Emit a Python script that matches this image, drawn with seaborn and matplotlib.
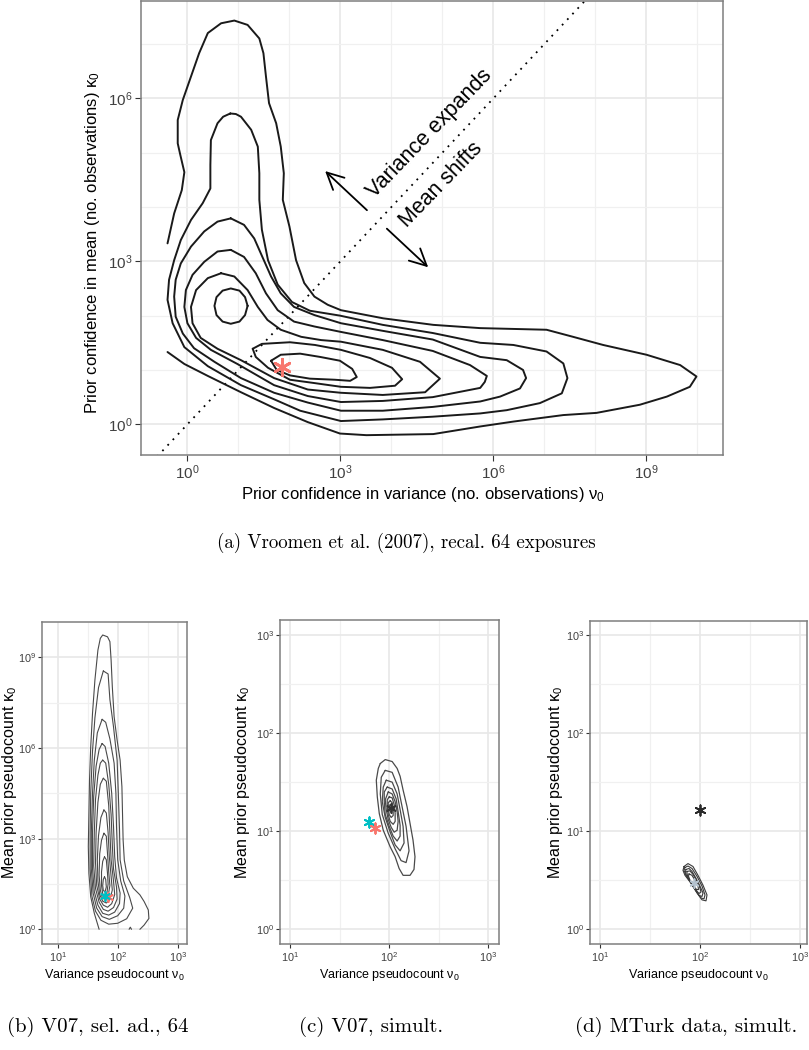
import numpy as np
import matplotlib
matplotlib.use("Agg")
import matplotlib.pyplot as plt
import seaborn as sns
from matplotlib.ticker import FixedLocator, LogFormatterSciNotation, NullFormatter

sns.set_theme(style="white")
plt.rcParams["font.family"] = ["Liberation Sans", "DejaVu Sans"]
plt.rcParams["mathtext.fontset"] = "custom"
plt.rcParams["mathtext.rm"] = "Liberation Sans"
plt.rcParams["mathtext.it"] = "Liberation Sans:italic"
plt.rcParams["mathtext.bf"] = "Liberation Sans:bold"

# ---------------- data (log10 units) ----------------
# Panel (a): density contours, outermost (open at data edge) to innermost
A1_X = [-0.39,-0.26,-0.11,-0.06,-0.14,-0.19,-0.19,-0.09,0.07,0.23,0.40,0.66,0.92,1.18,1.41,1.49,1.54,1.60,1.74,1.83,
        1.89,1.87,2.00,2.13,2.29,2.49,2.75,3.01,3.84,4.82,5.74,7.04,7.56,8.15,9.00,9.66,9.98,9.85,9.40,8.87,
        8.02,7.37,6.39,5.74,4.82,3.51,2.99,2.36,1.70,1.05,0.40,-0.06,-0.39]
A1_Y = [3.33,3.88,4.31,4.64,4.96,5.17,5.60,5.97,6.40,6.83,7.20,7.38,7.43,7.35,7.10,6.83,6.40,5.91,5.54,5.11,
        4.62,4.13,3.64,3.02,2.60,2.35,2.20,2.10,1.95,1.83,1.77,1.74,1.61,1.46,1.28,1.09,0.88,0.69,0.51,0.36,
        0.21,0.17,0.05,-0.04,-0.18,-0.20,-0.17,0.04,0.30,0.59,0.89,1.11,1.33]
A2_X = [0.84,0.95,1.05,1.25,1.38,1.41,1.41,1.46,1.58,1.77,2.05,2.40,2.99,3.83,4.81,5.74,6.39,7.04,7.37,7.45,7.34,
        6.91,6.26,5.74,4.81,3.83,3.01,2.21,1.70,1.05,0.40,-0.06,-0.29,-0.39,-0.36,-0.26,-0.13,0.07,0.30,0.45,0.45,
        0.46,0.59,0.70]
A2_Y = [5.72,5.71,5.66,5.42,5.11,4.62,4.13,3.58,3.02,2.57,2.25,2.09,2.00,1.83,1.68,1.50,1.46,1.34,1.12,0.85,0.57,
        0.39,0.26,0.20,0.14,0.09,0.06,0.25,0.46,0.72,1.07,1.42,1.86,2.29,2.66,3.02,3.39,3.76,4.07,4.34,4.77,
        5.23,5.54,5.66]
A3_X = [0.85,1.11,1.31,1.47,1.64,1.83,2.09,2.49,3.01,3.83,4.81,5.74,6.26,6.58,6.64,6.52,6.13,5.74,4.81,3.83,
        3.01,2.36,1.70,1.05,0.53,0.13,-0.09,-0.23,-0.26,-0.23,-0.13,0.07,0.33,0.59]
A3_Y = [3.79,3.67,3.42,3.08,2.72,2.41,2.16,2.01,1.86,1.72,1.56,1.24,1.18,1.00,0.85,0.66,0.51,0.42,0.32,0.25,
        0.25,0.40,0.58,0.85,1.15,1.40,1.67,1.98,2.35,2.66,2.96,3.27,3.55,3.73]
A4_X = [0.85,1.11,1.34,1.54,1.77,2.09,2.49,3.01,3.83,4.81,5.54,5.87,5.83,5.74,4.81,3.83,3.01,2.36,1.70,0.98,
        0.46,0.17,0.00,-0.06,-0.03,0.10,0.33,0.59]
A4_Y = [3.21,3.08,2.78,2.41,2.10,1.89,1.80,1.70,1.55,1.35,1.09,0.89,0.78,0.67,0.50,0.43,0.41,0.52,0.72,1.11,
        1.37,1.59,1.86,2.16,2.47,2.75,2.99,3.18]
A5_X = [0.66,0.92,1.18,1.38,1.57,1.83,2.23,2.62,3.01,3.83,4.56,4.95,4.66,3.83,3.01,2.36,1.70,1.05,0.59,0.26,
        0.10,0.07,0.17,0.40]
A5_Y = [2.78,2.72,2.47,2.16,1.92,1.74,1.61,1.55,1.52,1.37,1.15,0.84,0.59,0.54,0.58,0.64,0.85,1.18,1.39,1.59,
        1.86,2.16,2.47,2.69]
A6_X = [1.18,1.13,1.02,0.85,0.69,0.57,0.53,0.57,0.69,0.85,1.02,1.13]
A6_Y = [2.18,2.34,2.46,2.50,2.46,2.34,2.18,2.01,1.89,1.85,1.89,2.01]
A6B_X = [1.28,1.46,2.01,2.50,3.01,3.58,4.01,4.21,4.07,3.58,3.01,2.48,2.01,1.58,1.34]
A6B_Y = [1.39,1.48,1.51,1.46,1.37,1.22,1.04,0.83,0.71,0.67,0.69,0.76,0.82,1.04,1.24]
A7_X = [1.64,1.83,2.21,2.60,2.99,3.23,3.32,3.19,2.89,2.40,2.01,1.75]
A7_Y = [1.17,1.28,1.30,1.24,1.17,1.02,0.87,0.80,0.82,0.84,0.90,1.00]
A_STAR = (1.85, 1.05)
DIAG = [-1.0, 8.5]

# Panel (b)
B1_X = [1.69,1.61,1.55,1.52,1.51,1.52,1.53,1.55,1.58,1.62,1.67,1.71,1.75,1.83,1.87,1.89,1.91,1.94,1.99,2.04,
        2.07,2.08,2.09,2.11,2.16,2.26,2.37,2.44,2.51,2.52,2.44,2.37]
B1_Y = [0.00,0.53,1.08,1.85,2.74,3.84,4.94,6.04,7.15,8.25,9.24,9.63,9.74,9.68,9.52,8.91,8.03,7.04,6.26,5.60,
        4.72,3.84,2.96,2.29,1.74,1.36,1.14,0.92,0.64,0.36,0.14,0.00]
B1S_X = [2.19, 2.21, 2.23]
B1S_Y = [0.00, 0.07, 0.00]
B2_X = [1.76,1.84,1.87,1.93,1.99,2.01,2.03,2.04,2.10,2.20,2.25,2.15,2.00,1.85,1.72,1.63,1.57,1.54,1.54,1.55,1.58,1.62,1.68]
B2_Y = [8.55,8.45,7.60,6.70,5.60,4.50,3.30,2.30,1.60,1.05,0.70,0.35,0.20,0.17,0.30,0.60,1.10,2.00,3.20,4.50,5.90,7.00,8.00]
B3_X = [1.74,1.80,1.87,1.94,1.97,1.98,2.00,2.05,2.12,2.10,2.00,1.86,1.74,1.65,1.59,1.56,1.56,1.58,1.61,1.66]
B3_Y = [6.95,6.85,6.30,5.50,4.50,3.40,2.30,1.60,1.10,0.70,0.45,0.33,0.42,0.70,1.20,2.00,3.20,4.50,5.60,6.50]
B4_X = [1.74,1.79,1.85,1.90,1.93,1.95,1.98,2.04,2.03,1.95,1.85,1.75,1.67,1.61,1.58,1.58,1.60,1.64,1.69]
B4_Y = [6.15,6.05,5.50,4.50,3.40,2.40,1.70,1.20,0.85,0.57,0.47,0.53,0.80,1.25,2.00,3.20,4.40,5.40,5.95]
B5_X = [1.75,1.80,1.85,1.89,1.91,1.93,1.98,1.99,1.93,1.84,1.76,1.69,1.63,1.60,1.61,1.63,1.67,1.71]
B5_Y = [5.60,5.50,4.80,3.80,2.80,2.00,1.40,1.00,0.72,0.60,0.66,0.90,1.35,2.10,3.20,4.30,5.10,5.50]
B6_X = [1.76,1.81,1.85,1.87,1.89,1.93,1.95,1.90,1.83,1.76,1.70,1.65,1.63,1.64,1.67,1.71]
B6_Y = [5.00,4.90,4.10,3.20,2.30,1.60,1.15,0.85,0.73,0.80,1.00,1.45,2.20,3.20,4.20,4.80]
B7_X = [1.77,1.81,1.84,1.86,1.89,1.91,1.87,1.81,1.75,1.70,1.67,1.66,1.68,1.72]
B7_Y = [3.95,3.85,3.20,2.40,1.75,1.30,0.98,0.87,0.93,1.15,1.60,2.30,3.10,3.70]
B8_X = [1.77,1.81,1.83,1.85,1.87,1.84,1.79,1.74,1.71,1.69,1.70,1.73]
B8_Y = [3.18,3.08,2.50,1.90,1.45,1.10,1.00,1.07,1.30,1.80,2.50,2.95]
B9_X = [1.78,1.81,1.83,1.84,1.82,1.78,1.75,1.73,1.73,1.75]
B9_Y = [2.40,2.30,1.85,1.50,1.20,1.12,1.18,1.45,1.90,2.25]
B10_X = [1.78,1.80,1.81,1.79,1.76,1.75,1.76]
B10_Y = [1.74,1.65,1.40,1.25,1.28,1.45,1.65]
B_STAR_RED = (1.845, 1.06)
B_STAR_CYAN = (1.79, 1.10)

# Panel (c)
C1_X = [1.91,1.96,2.03,2.08,2.11,2.14,2.18,2.21,2.24,2.26,2.25,2.21,2.14,2.10,2.06,2.01,1.94,1.90,1.88,1.87,1.89]
C1_Y = [1.69,1.73,1.71,1.64,1.56,1.42,1.25,1.08,0.91,0.74,0.61,0.55,0.55,0.62,0.74,0.84,1.01,1.18,1.35,1.52,1.64]
C2_X = [1.96,2.03,2.09,2.13,2.17,2.20,2.17,2.12,2.06,1.99,1.93,1.91,1.92]
C2_Y = [1.62,1.60,1.45,1.25,1.05,0.80,0.68,0.70,0.82,0.98,1.17,1.38,1.55]
C3_X = [1.97,2.03,2.08,2.11,2.14,2.15,2.11,2.06,2.01,1.96,1.93,1.94]
C3_Y = [1.52,1.50,1.38,1.22,1.05,0.88,0.80,0.86,0.99,1.14,1.30,1.45]
C4_X = [1.98,2.03,2.07,2.09,2.11,2.11,2.08,2.04,2.00,1.96,1.95,1.95]
C4_Y = [1.45,1.43,1.33,1.20,1.06,0.95,0.90,0.95,1.05,1.17,1.30,1.40]
C5_X = [1.99,2.03,2.06,2.08,2.09,2.08,2.05,2.02,1.99,1.97,1.96]
C5_Y = [1.40,1.38,1.30,1.20,1.10,1.01,0.99,1.04,1.12,1.22,1.32]
C6_X = [2.00,2.03,2.05,2.06,2.06,2.04,2.01,1.99,1.98,1.98]
C6_Y = [1.35,1.34,1.27,1.18,1.10,1.07,1.10,1.17,1.26,1.32]
C7_X = [2.01,2.03,2.04,2.04,2.02,2.00,1.99,1.99]
C7_Y = [1.31,1.29,1.23,1.16,1.14,1.17,1.23,1.29]
C8_X = [2.01,2.03,2.03,2.02,2.005,2.00]
C8_Y = [1.27,1.26,1.21,1.19,1.21,1.25]
C_STAR_BLACK = (2.015, 1.233)
C_STAR_RED = (1.854, 1.033)
C_STAR_CYAN = (1.80, 1.097)

# Panel (d)
D1_X = [1.84,1.88,1.93,1.98,2.03,2.07,2.06,2.02,1.97,1.91,1.85,1.83]
D1_Y = [0.64,0.67,0.64,0.55,0.45,0.35,0.29,0.30,0.37,0.47,0.55,0.60]
D2_X = [1.85,1.88,1.92,1.97,2.02,2.05,2.04,2.01,1.96,1.91,1.86,1.84]
D2_Y = [0.63,0.645,0.62,0.54,0.44,0.35,0.31,0.32,0.39,0.47,0.55,0.60]
D3_X = [1.86,1.89,1.92,1.96,2.00,2.03,2.02,1.99,1.95,1.90,1.86,1.855]
D3_Y = [0.61,0.62,0.59,0.52,0.44,0.37,0.335,0.345,0.41,0.49,0.56,0.59]
D4_X = [1.87,1.90,1.93,1.97,2.00,2.01,1.99,1.96,1.92,1.88,1.87]
D4_Y = [0.59,0.595,0.56,0.49,0.42,0.38,0.365,0.40,0.46,0.53,0.57]
D5_X = [1.89,1.92,1.95,1.98,1.985,1.965,1.94,1.90,1.885]
D5_Y = [0.565,0.55,0.50,0.44,0.405,0.405,0.44,0.50,0.54]
D_STAR_BLACK = (2.0, 1.22)
D_STAR_GREY = (1.94, 0.47)

CAPTIONS = ["(a) Vroomen et al. (2007), recal. 64 exposures", "(b) V07, sel. ad., 64",
            "(c) V07, simult.", "(d) MTurk data, simult."]

RED = "#F8766D"
CYAN = "#00BFC4"
STAR = (6, 2, 0)

# ---------------- helpers ----------------
def path(ax, lx, ly, color, lw, closed=True):
    x = list(lx) + ([lx[0]] if closed else [])
    y = list(ly) + ([ly[0]] if closed else [])
    sns.lineplot(x=np.power(10.0, x), y=np.power(10.0, y), sort=False, estimator=None,
                 color=color, linewidth=lw, ax=ax, legend=False,
                 solid_joinstyle="round", solid_capstyle="round")


def star(ax, pt, color, s, lw):
    sns.scatterplot(x=[10 ** pt[0]], y=[10 ** pt[1]], marker=STAR, s=s, color=color,
                    linewidth=lw, ax=ax, legend=False, zorder=5)


def style(ax, xlim, ylim, xmaj, ymaj, xmin, ymin, tsize, tlen, pad):
    ax.set_xscale("log")
    ax.set_yscale("log")
    ax.set_xlim(10 ** xlim[0], 10 ** xlim[1])
    ax.set_ylim(10 ** ylim[0], 10 ** ylim[1])
    ax.xaxis.set_major_locator(FixedLocator([10.0 ** k for k in xmaj]))
    ax.yaxis.set_major_locator(FixedLocator([10.0 ** k for k in ymaj]))
    ax.xaxis.set_minor_locator(FixedLocator([10.0 ** k for k in xmin]))
    ax.yaxis.set_minor_locator(FixedLocator([10.0 ** k for k in ymin]))
    ax.xaxis.set_major_formatter(LogFormatterSciNotation())
    ax.yaxis.set_major_formatter(LogFormatterSciNotation())
    ax.xaxis.set_minor_formatter(NullFormatter())
    ax.yaxis.set_minor_formatter(NullFormatter())
    ax.grid(which="major", color="#e8e8e8", linewidth=1.2)
    ax.grid(which="minor", color="#f0f0f0", linewidth=0.9)
    ax.set_axisbelow(True)
    ax.tick_params(which="major", length=tlen, width=0.8, color="#333333", labelsize=tsize,
                   labelcolor="#404040", direction="out", pad=pad, bottom=True, left=True)
    ax.tick_params(which="minor", length=0, bottom=False, left=False)
    for sp in ax.spines.values():
        sp.set_color("#7f7f7f")
        sp.set_linewidth(1.1)


W, H = 809, 1050
fig = plt.figure(figsize=(W / 100, H / 100), dpi=100)

# ---------------- panel (a) ----------------
axA = fig.add_axes([141 / W, 1 - 455 / H, (723 - 141) / W, (455 - 1) / H])
style(axA, (-0.91, 10.5), (-0.565, 7.79), [0, 3, 6, 9], [0, 3, 6],
      [1, 2, 4, 5, 7, 8, 10], [1, 2, 4, 5, 7], 11, 4, 2)
path(axA, DIAG, DIAG, "black", 1.3, closed=False)
axA.lines[-1].set_linestyle((0, (1, 3.2)))
for lx, ly, cl in [(A1_X, A1_Y, False), (A2_X, A2_Y, True), (A3_X, A3_Y, True), (A4_X, A4_Y, True),
                   (A5_X, A5_Y, True), (A6_X, A6_Y, True), (A6B_X, A6B_Y, True), (A7_X, A7_Y, True)]:
    path(axA, lx, ly, "#1a1a1a", 1.4, closed=cl)
star(axA, A_STAR, RED, 140, 2.0)
axA.text(10 ** 4.75, 10 ** 5.35, "Variance expands", rotation=46, rotation_mode="anchor",
         ha="center", va="center", fontsize=15.5, color="black")
axA.text(10 ** 4.97, 10 ** 4.40, "Mean shifts", rotation=46, rotation_mode="anchor",
         ha="center", va="center", fontsize=15.5, color="black")
arr = dict(arrowstyle="->,head_length=0.6,head_width=0.3", lw=1.3, color="black",
           mutation_scale=20, shrinkA=0, shrinkB=0)
axA.annotate("", xy=(10 ** 2.70, 10 ** 4.66), xytext=(10 ** 3.52, 10 ** 3.94), arrowprops=arr)
axA.annotate("", xy=(10 ** 4.72, 10 ** 2.89), xytext=(10 ** 3.91, 10 ** 3.60), arrowprops=arr)
axA.set_xlabel("Prior confidence in variance (no. observations) ν$_0$", fontsize=12, color="black")
axA.set_ylabel("Prior confidence in mean (no. observations) κ$_0$", fontsize=12, color="black")
axA.xaxis.set_label_coords(0.484, -0.086)
axA.xaxis.label.set_va("center")
axA.yaxis.set_label_coords(-0.0825, 0.468)
axA.yaxis.label.set_va("center")

# ---------------- panel (b) ----------------
axB = fig.add_axes([42.3 / W, 1 - 944.3 / H, 145 / W, 322.6 / H])
style(axB, (0.743, 3.16), (-0.496, 10.18), [1, 2, 3], [0, 3, 6, 9], [1.5, 2.5], [1.5, 4.5, 7.5], 7.8, 3, 1.2)
for lx, ly, cl in [(B1_X, B1_Y, False), (B1S_X, B1S_Y, False), (B2_X, B2_Y, True), (B3_X, B3_Y, True),
                   (B4_X, B4_Y, True), (B5_X, B5_Y, True), (B6_X, B6_Y, True), (B7_X, B7_Y, True),
                   (B8_X, B8_Y, True), (B9_X, B9_Y, True), (B10_X, B10_Y, True)]:
    path(axB, lx, ly, "#4a4a4a", 0.8, closed=cl)
star(axB, B_STAR_RED, RED, 45, 1.3)
star(axB, B_STAR_CYAN, CYAN, 45, 1.3)

# ---------------- panel (c) ----------------
axC = fig.add_axes([280 / W, 1 - 944.3 / H, 218.7 / W, 324.3 / H])
style(axC, (0.899, 3.104), (-0.153, 3.153), [1, 2, 3], [0, 1, 2, 3], [1.5, 2.5], [0.5, 1.5, 2.5], 7.8, 3, 1.2)
for lx, ly in [(C1_X, C1_Y), (C2_X, C2_Y), (C3_X, C3_Y), (C4_X, C4_Y), (C5_X, C5_Y),
               (C6_X, C6_Y), (C7_X, C7_Y), (C8_X, C8_Y)]:
    path(axC, lx, ly, "#4a4a4a", 0.9)
star(axC, C_STAR_BLACK, "#333333", 45, 1.2)
star(axC, C_STAR_CYAN, CYAN, 55, 1.4)
star(axC, C_STAR_RED, RED, 55, 1.4)

# ---------------- panel (d) ----------------
axD = fig.add_axes([590 / W, 1 - 944.3 / H, 217 / W, 323.6 / H])
style(axD, (0.9, 3.07), (-0.153, 3.146), [1, 2, 3], [0, 1, 2, 3], [1.5, 2.5], [0.5, 1.5, 2.5], 7.8, 3, 1.2)
for lx, ly in [(D1_X, D1_Y), (D2_X, D2_Y), (D3_X, D3_Y), (D4_X, D4_Y), (D5_X, D5_Y)]:
    path(axD, lx, ly, "#3a3a3a", 0.8)
star(axD, D_STAR_GREY, "#b4c2cf", 40, 1.2)
star(axD, D_STAR_BLACK, "#2a2a2a", 55, 1.3)

for ax, ylx in [(axB, -0.225), (axC, -0.17), (axD, -0.16)]:
    ax.set_xlabel("Variance pseudocount ν$_0$", fontsize=9, color="black")
    ax.set_ylabel("Mean prior pseudocount κ$_0$", fontsize=11.5, color="black")
    ax.xaxis.set_label_coords(0.5, -0.095)
    ax.xaxis.label.set_va("center")
    ax.yaxis.set_label_coords(ylx, 0.5)
    ax.yaxis.label.set_va("center")

# ---------------- captions ----------------
for txt, cx, cy, fs in [(CAPTIONS[0], 406, 543, 13.6), (CAPTIONS[1], 98, 1027, 15),
                        (CAPTIONS[2], 371, 1027, 15), (CAPTIONS[3], 686, 1027, 15)]:
    fig.text(cx / W, 1 - cy / H, txt, ha="center", va="center", family="cmr10",
             fontsize=fs, color="black")

fig.savefig("out.png", dpi=100)
